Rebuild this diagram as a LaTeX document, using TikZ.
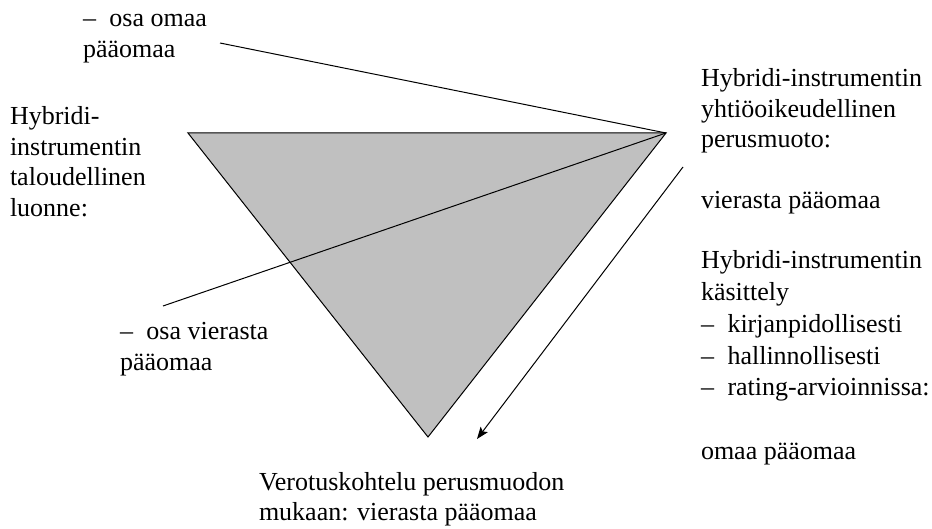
\documentclass[tikz,border=0pt]{standalone}
\usepackage{fontspec}
\setmainfont{Liberation Serif}
\usetikzlibrary{arrows.meta}
\definecolor{trigray}{HTML}{C0C0C0}
\tikzset{
  lbl/.style={anchor=base west, inner sep=0pt, outer sep=0pt, font=\fontsize{26}{30.5}\selectfont},
  lblwide/.style={lbl, font=\fontsize{26}{31.7}\selectfont},
  thinline/.style={draw=black, line width=1pt},
  tri/.style={draw=black, line width=1pt, fill=trigray, line join=miter},
  arrowline/.style={draw=black, line width=1pt, -{Stealth[length=12pt,width=9pt,inset=2.5pt]}},
}
\newcommand{\dashitem}[1]{\makebox[26.5pt][l]{–}#1}
\begin{document}
\begin{tikzpicture}[x=1pt,y=-1pt]
\useasboundingbox (0,0) rectangle (932,529);
% triangle corners
\coordinate (TL) at (188,133);
\coordinate (TR) at (666,133);
\coordinate (BOT) at (428,437);
\coordinate (L1) at (220,43);
\coordinate (L2) at (163,306);
\coordinate (AS) at (683,167);
\coordinate (AE) at (477,439);
\path[tri] (TL) -- (TR) -- (BOT) -- cycle;
\draw[thinline] (L1) -- (TR);
\draw[thinline] (L2) -- (TR);
\draw[arrowline] (AS) -- (AE);
% texts
\node[lbl] (t1) at (83,27) {\begin{tabular}[t]{@{}l@{}}\dashitem{osa omaa}\\pääomaa\end{tabular}};
\node[lbl] (t2) at (10,125) {\begin{tabular}[t]{@{}l@{}}Hybridi-\\instrumentin\\taloudellinen\\luonne:\end{tabular}};
\node[lbl] (t3) at (701,87) {\begin{tabular}[t]{@{}l@{}}Hybridi-instrumentin\\yhtiöoikeudellinen\\perusmuoto:\\ \\vierasta pääomaa\end{tabular}};
\node[lblwide] (t4) at (701,269) {\begin{tabular}[t]{@{}l@{}}Hybridi-instrumentin\\käsittely\\\dashitem{kirjanpidollisesti}\\\dashitem{hallinnollisesti}\\\dashitem{rating-arvioinnissa:}\\ \\omaa pääomaa\end{tabular}};
\node[lbl] (t5) at (120,340) {\begin{tabular}[t]{@{}l@{}}\dashitem{osa vierasta}\\pääomaa\end{tabular}};
\node[lbl] (t6) at (259,490) {\begin{tabular}[t]{@{}l@{}}Verotuskohtelu perusmuodon\\mukaan: vierasta pääomaa\end{tabular}};
\end{tikzpicture}
\end{document}
